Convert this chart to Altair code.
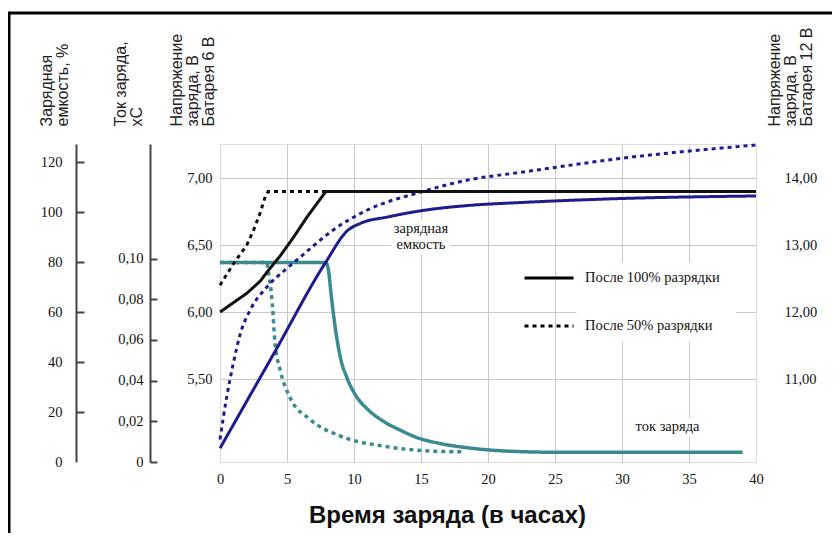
import altair as alt
import pandas as pd

S100 = "После 100% разрядки"
S50 = "После 50% разрядки"

hour_ticks = [0, 5, 10, 15, 20, 25, 30, 35, 40]
volt6_ticks = [5.5, 6.0, 6.5, 7.0]
volt12_ticks = [11, 12, 13, 14]
cap_ticks = [0, 20, 40, 60, 80, 100, 120]
cur_ticks = [0, 0.02, 0.04, 0.06, 0.08, 0.10]

# Charge voltage, 6 V battery (black)
v100_t = [0, 1, 2, 3, 3.6, 4.5, 5.5, 6.5, 7.9, 40]
v100_v = [6.00, 6.07, 6.14, 6.23, 6.31, 6.42, 6.56, 6.71, 6.90, 6.90]
v50_t = [0, 1, 2, 2.5, 3, 3.4, 3.6, 8]
v50_v = [6.20, 6.36, 6.50, 6.61, 6.74, 6.87, 6.90, 6.90]

# Charge capacity, % (navy)
c100_t = [0, 4, 7.9, 9.5, 10.5, 12.5, 15, 18.5, 22.5, 30, 40]
c100_c = [5.5, 43.2, 80, 92.5, 95.5, 98, 100.5, 102.6, 103.8, 105.4, 106.4]
c50_t = [0, 0.5, 1, 1.5, 2.25, 3.5, 5, 6, 8.5, 11, 15, 18.5, 22.5, 30, 40]
c50_c = [9, 26, 39.6, 51, 60.8, 70, 77.5, 82, 93, 100.8, 108, 112.8, 115.9, 121.5, 126.8]

# Charge current, xC (teal)
i100_t = [0, 7.9, 8.1, 8.3, 8.6, 9, 9.5, 10.2, 11, 12.2, 13.5, 14.7, 16.5, 18.5, 21, 25, 39]
i100_i = [0.098, 0.098, 0.094, 0.082, 0.066, 0.051, 0.041, 0.032, 0.026, 0.020,
          0.0155, 0.012, 0.009, 0.007, 0.0055, 0.0048, 0.0048]
i50_t = [0, 3.5, 3.6, 3.9, 4.1, 4.5, 5.2, 6.7, 9, 12.2, 16, 18]
i50_i = [0.098, 0.098, 0.094, 0.078, 0.059, 0.045, 0.032, 0.021, 0.0127, 0.0078, 0.0053, 0.005]

# In-plot annotations (hours, 6 V scale)
note_text = ["зарядная", "емкость", "ток заряда"]
note_t = [15.0, 15.0, 33.4]
note_v = [6.62, 6.50, 5.14]

# white label backgrounds (hours, 6 V scale)
box_t0 = [12.8, 30.7, 26.6]
box_t1 = [17.2, 36.1, 38.5]
box_v0 = [6.43, 5.07, 5.78]
box_v1 = [6.69, 5.21, 6.37]

volt_df = pd.DataFrame({"t": v100_t + v50_t, "v": v100_v + v50_v,
                        "s": [S100] * len(v100_t) + [S50] * len(v50_t)})
cap_df = pd.DataFrame({"t": c100_t + c50_t, "c": c100_c + c50_c,
                       "s": [S100] * len(c100_t) + [S50] * len(c50_t)})
cur_df = pd.DataFrame({"t": i100_t + i50_t, "i": i100_i + i50_i,
                       "s": [S100] * len(i100_t) + [S50] * len(i50_t)})
note_df = pd.DataFrame({"t": note_t, "v": note_v, "txt": note_text})
box_df = pd.DataFrame({"t0": box_t0, "t1": box_t1, "v0": box_v0, "v1": box_v1})

SERIF = "Liberation Serif"
SANS = "Liberation Sans"
GRID = "#c8c8c8"
AXC = "#444444"

title_kw = dict(titleAngle=270, titleAlign="left", titleBaseline="top", titleFont=SANS,
                titleFontSize=16, titleFontWeight="normal", titleColor="#222222",
                titleLineHeight=16)
label_kw = dict(labelFont=SERIF, labelFontSize=14.5, labelColor="#111111")

x_scale = alt.Scale(domain=[0, 40], nice=False, zero=False)
x_axis = alt.Axis(values=hour_ticks, title="Время заряда (в часах)", grid=True,
                  gridColor=GRID, gridWidth=1,
                  gridOpacity={"condition": {"test": "datum.value == 0 || datum.value == 40", "value": 0}, "value": 1},
                  domain=False, ticks=False, tickSize=0, labelPadding=10, labelFlush=False,
                  titleFont=SANS, titleFontSize=24, titleFontWeight="bold", titleColor="#111111",
                  titleX=227, titleY=60, titleAlign="center", titleBaseline="alphabetic",
                  **label_kw)
X = alt.X("t:Q", scale=x_scale, axis=x_axis)

v6_scale = alt.Scale(domain=[4.881, 7.254], nice=False, zero=False)

legend = alt.Legend(title=None, orient="none", legendX=303, legendY=108, symbolType="stroke",
                    symbolSize=2401, symbolStrokeWidth=3, symbolStrokeColor="black",
                    labelFont=SERIF, labelFontSize=14.5, labelColor="#111111", labelOffset=10,
                    rowPadding=15, padding=0, labelLimit=300)
DASH = alt.StrokeDash("s:N", scale=alt.Scale(domain=[S100, S50], range=[[1, 0], [4, 4]]),
                      legend=legend)

boxes = alt.Chart(box_df).mark_rect(color="white").encode(
    x=alt.X("t0:Q", scale=x_scale, axis=x_axis),
    x2="t1:Q",
    y=alt.Y("v0:Q", scale=v6_scale, axis=None),
    y2="v1:Q",
)

teal = alt.Chart(cur_df).mark_line(color="#3a8a8f", strokeWidth=3.5, interpolate="monotone").encode(
    x=X,
    y=alt.Y("i:Q", scale=alt.Scale(domain=[0, 0.1563], nice=False, zero=False),
            axis=alt.Axis(orient="right", offset=-606, values=cur_ticks,
                          labelExpr="datum.value == 0 ? '0' : replace(format(datum.value, '.2f'), '.', ',')",
                          grid=False, domain=True, domainColor=AXC, domainWidth=2,
                          ticks=True, tickSize=7, tickWidth=2, tickColor=AXC,
                          labelAlign="right", labelPadding=-14,
                          title=["Ток заряда,", "xC"], titleX=-38, titleY=-18,
                          **title_kw, **label_kw)),
    strokeDash=DASH,
)

navy = alt.Chart(cap_df).mark_line(color="#1e1b8c", strokeWidth=3, interpolate="monotone").encode(
    x=X,
    y=alt.Y("c:Q", scale=alt.Scale(domain=[0, 127.2], nice=False, zero=False),
            axis=alt.Axis(orient="right", offset=-680, values=cap_ticks,
                          grid=False, domain=True, domainColor=AXC, domainWidth=2,
                          ticks=True, tickSize=8, tickWidth=2, tickColor=AXC,
                          tickOpacity={"condition": {"test": "datum.value == 0", "value": 0}, "value": 1},
                          labelAlign="right", labelPadding=-22,
                          title=["Зарядная", "емкость, %"], titleX=-38, titleY=-18,
                          **title_kw, **label_kw)),
    strokeDash=DASH,
)

black = alt.Chart(volt_df).mark_line(color="#111111", strokeWidth=3).encode(
    x=X,
    y=alt.Y("v:Q", scale=v6_scale,
            axis=alt.Axis(orient="left", values=volt6_ticks,
                          labelExpr="replace(format(datum.value, '.2f'), '.', ',')",
                          grid=True, gridColor=GRID, gridWidth=1,
                          domain=False, ticks=False, tickSize=0, labelPadding=8,
                          title=["Напряжение", "заряда, В", "Батарея 6 В"], titleX=-52, titleY=-18,
                          **title_kw, **label_kw)),
    strokeDash=DASH,
)

texts = alt.Chart(note_df).mark_text(font=SERIF, fontSize=14.5, color="#111111",
                                     align="center", baseline="middle").encode(
    x=X,
    y=alt.Y("v:Q", scale=v6_scale, axis=None),
    text="txt:N",
)

v12 = alt.Chart(volt_df).transform_calculate(v12="2 * datum.v").mark_line(opacity=0).encode(
    x=X,
    y=alt.Y("v12:Q", scale=alt.Scale(domain=[9.762, 14.508], nice=False, zero=False),
            axis=alt.Axis(orient="right", values=volt12_ticks,
                          labelExpr="replace(format(datum.value, '.2f'), '.', ',')",
                          grid=False, domain=False, ticks=False, tickSize=0,
                          labelPadding=28, labelAlign="left",
                          title=["Напряжение", "заряда, В", "Батарея 12 В"], titleX=10, titleY=-18,
                          **title_kw, **label_kw)),
    detail="s:N",
)

frame = alt.Chart(pd.DataFrame({"a": [0]})).mark_rect(
    filled=False, stroke="black", strokeWidth=3).encode(
    x=alt.value(-211), x2=alt.value(900), y=alt.value(-131), y2=alt.value(700))

chart = alt.layer(boxes, teal, navy, black, texts, v12, frame).resolve_scale(
    y="independent"
).properties(
    width=536, height=318,
    autosize=alt.AutoSizeParams(type="none"),
    padding={"left": 212, "top": 136, "right": 76, "bottom": 71},
).configure_view(stroke="#333333", strokeWidth=2).configure(background="white")

chart.save("out.html", embed_options={"renderer": "svg", "actions": False})
